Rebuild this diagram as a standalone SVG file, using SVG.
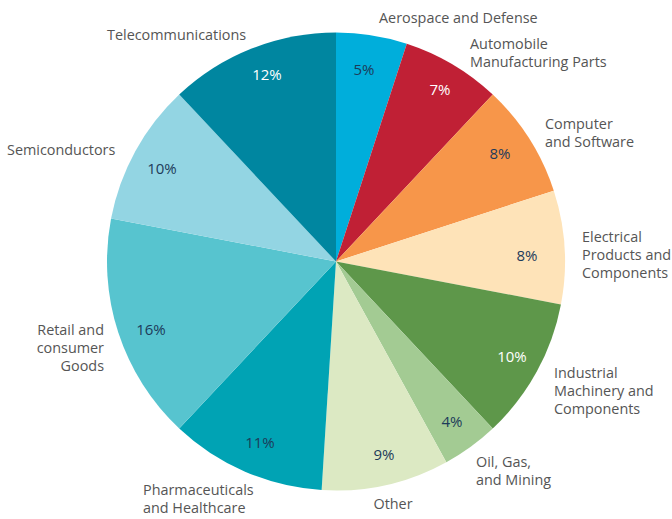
<svg xmlns="http://www.w3.org/2000/svg" width="672" height="519" viewBox="0 0 672 519">
<style>
.lbl{font-family:"Open Sans","Noto Sans",sans-serif;font-size:14.4px;fill:#555555}
.pct{font-family:"Open Sans","Noto Sans",sans-serif;font-size:15px;fill:#1d3b5a;text-anchor:middle}
.w{fill:#ffffff}
.r{text-anchor:end}
.m{text-anchor:middle}
</style>
<rect width="672" height="519" fill="#ffffff"/>
<g id="aerospace">
<path d="M336,261.5 L336,32.5 A229,229 0 0 1 406.77,43.71 Z" fill="#00aedb"/>
<text class="pct" x="364" y="75">5%</text>
<text class="lbl" x="379" y="23">Aerospace and Defense</text>
</g>
<g id="automobile">
<path d="M336,261.5 L406.77,43.71 A229,229 0 0 1 492.76,94.57 Z" fill="#c02035"/>
<text class="pct w" x="440" y="95">7%</text>
<text class="lbl" x="470" y="49">Automobile</text>
<text class="lbl" x="470" y="67">Manufacturing Parts</text>
</g>
<g id="computer">
<path d="M336,261.5 L492.76,94.57 A229,229 0 0 1 553.79,190.73 Z" fill="#f7964a"/>
<text class="pct" x="500" y="159">8%</text>
<text class="lbl" x="545" y="129">Computer</text>
<text class="lbl" x="545" y="147">and Software</text>
</g>
<g id="electrical">
<path d="M336,261.5 L553.79,190.73 A229,229 0 0 1 560.94,304.41 Z" fill="#fee3b8"/>
<text class="pct" x="527" y="261">8%</text>
<text class="lbl" x="582" y="242">Electrical</text>
<text class="lbl" x="582" y="260">Products and</text>
<text class="lbl" x="582" y="278">Components</text>
</g>
<g id="industrial">
<path d="M336,261.5 L560.94,304.41 A229,229 0 0 1 492.76,428.43 Z" fill="#5e974a"/>
<text class="pct w" x="512" y="362">10%</text>
<text class="lbl" x="554" y="378">Industrial</text>
<text class="lbl" x="554" y="396">Machinery and</text>
<text class="lbl" x="554" y="414">Components</text>
</g>
<g id="oil">
<path d="M336,261.5 L492.76,428.43 A229,229 0 0 1 446.32,462.17 Z" fill="#a3cb93"/>
<text class="pct" x="452" y="427">4%</text>
<text class="lbl" x="476" y="467">Oil, Gas,</text>
<text class="lbl" x="476" y="485">and Mining</text>
</g>
<g id="other">
<path d="M336,261.5 L446.32,462.17 A229,229 0 0 1 321.62,490.05 Z" fill="#dce9c3"/>
<text class="pct" x="384" y="460">9%</text>
<text class="lbl m" x="393" y="509">Other</text>
</g>
<g id="pharma">
<path d="M336,261.5 L321.62,490.05 A229,229 0 0 1 179.24,428.43 Z" fill="#00a3b4"/>
<text class="pct" x="260" y="448">11%</text>
<text class="lbl" x="143" y="495">Pharmaceuticals</text>
<text class="lbl" x="143" y="513">and Healthcare</text>
</g>
<g id="retail">
<path d="M336,261.5 L179.24,428.43 A229,229 0 0 1 111.06,218.59 Z" fill="#57c4cf"/>
<text class="pct" x="151" y="335">16%</text>
<text class="lbl r" x="104" y="335">Retail and</text>
<text class="lbl r" x="104" y="353">consumer</text>
<text class="lbl r" x="104" y="371">Goods</text>
</g>
<g id="semiconductors">
<path d="M336,261.5 L111.06,218.59 A229,229 0 0 1 179.24,94.57 Z" fill="#93d5e3"/>
<text class="pct" x="162" y="174">10%</text>
<text class="lbl" x="7" y="155">Semiconductors</text>
</g>
<g id="telecom">
<path d="M336,261.5 L179.24,94.57 A229,229 0 0 1 336,32.5 Z" fill="#0086a0"/>
<text class="pct w" x="267" y="80">12%</text>
<text class="lbl" x="107" y="40">Telecommunications</text>
</g>
<g id="connectors"></g>
</svg>
